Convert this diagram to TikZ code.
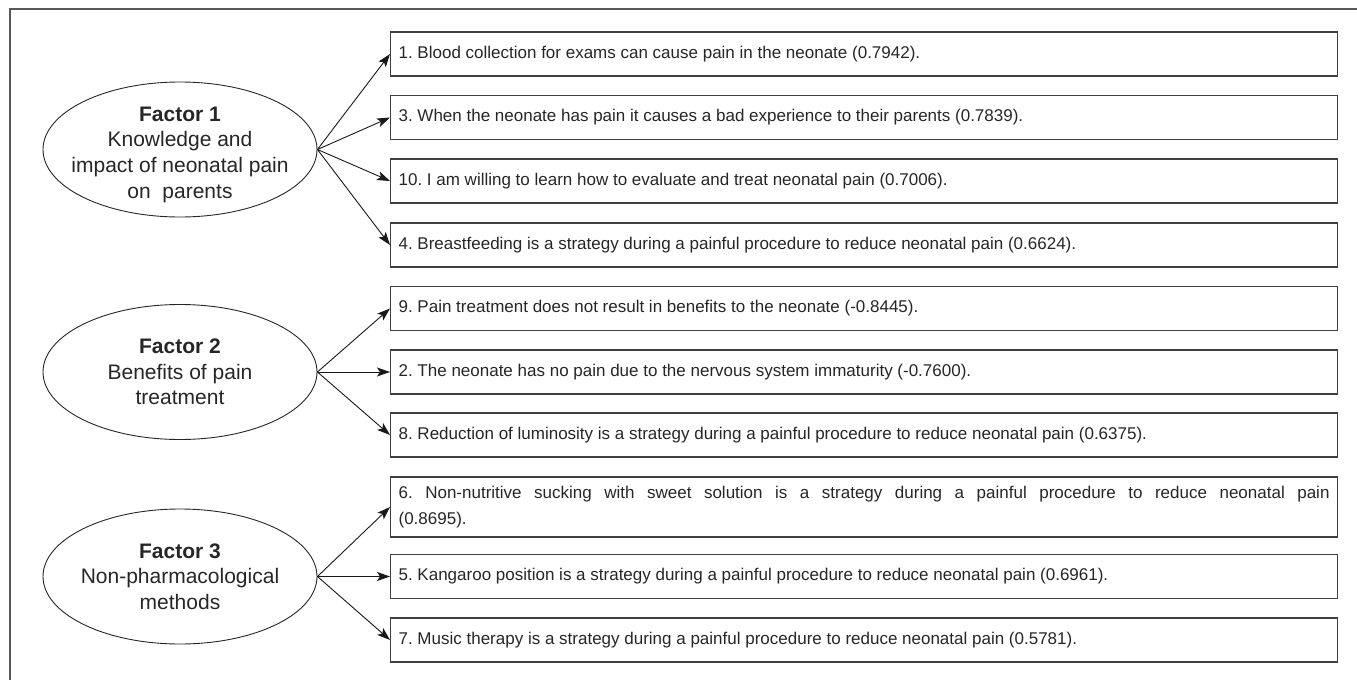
\documentclass[tikz,border=0pt]{standalone}
\usepackage{fontspec}
\setmainfont{Liberation Sans}
\usetikzlibrary{shapes.geometric,arrows.meta}

\begin{document}
\frenchspacing
\begin{tikzpicture}[x=1pt,y=-1pt,
    factor/.style={ellipse,draw=black!85,line width=0.9pt,minimum width=274pt,minimum height=135pt,inner xsep=-20pt,inner ysep=-9pt,align=center,text=black!85,font=\fontsize{21}{25.7}\selectfont},
    item/.style={draw=black!75,line width=1.2pt,anchor=west,minimum height=44pt,text width=931pt,inner xsep=8pt,inner ysep=0pt,align=justify,text=black!85,font=\fontsize{17}{26}\selectfont},
    load/.style={-{Stealth[length=13pt,width=9pt,inset=3pt]},line width=0.9pt,black!90}]
    \useasboundingbox (0,0) rectangle (1357,680);
    % Draw the frame
    \draw[black!65,line width=1.3pt] (1357,9) -- (10,9) -- (10,680);
    % factors
    \node[factor] (f1) at (180,149.5) {\rule{0pt}{25pt}\textbf{Factor 1}\\Knowledge and\\impact of neonatal pain\\on\ \ parents};
    \node[factor] (f2) at (180,372) {\textbf{Factor 2}\\Benefits of pain\\treatment};
    \node[factor] (f3) at (180,576.5) {\textbf{Factor 3}\\Non-pharmacological\\methods};
    % items
    \node[item] (q1) at (390,54) {1. Blood collection for exams can cause pain in the neonate (0.7942).};
    \node[item] (q3) at (390,117.5) {3. When the neonate has pain it causes a bad experience to their parents (0.7839).};
    \node[item] (q10) at (390,181) {10. I am willing to learn how to evaluate and treat neonatal pain (0.7006).};
    \node[item] (q4) at (390,245) {4. Breastfeeding is a strategy during a painful procedure to reduce neonatal pain (0.6624).};
    \node[item] (q9) at (390,308.5) {9. Pain treatment does not result in benefits to the neonate (-0.8445).};
    \node[item] (q2) at (390,372) {2. The neonate has no pain due to the nervous system immaturity (-0.7600).};
    \node[item] (q8) at (390,435) {8. Reduction of luminosity is a strategy during a painful procedure to reduce neonatal pain (0.6375).};
    \node[item,minimum height=60pt] (q6) at (390,507) {6. Non-nutritive sucking with sweet solution is a strategy during a painful procedure to reduce neonatal pain\linebreak (0.8695).};
    \node[item] (q5) at (390,576.5) {5. Kangaroo position is a strategy during a painful procedure to reduce neonatal pain (0.6961).};
    \node[item] (q7) at (390,640) {7. Music therapy is a strategy during a painful procedure to reduce neonatal pain (0.5781).};
    % loadings
    \foreach \q in {q1,q3,q10,q4} \draw[load] (f1.east) -- (\q.west);
    \foreach \q in {q9,q2,q8} \draw[load] (f2.east) -- (\q.west);
    \foreach \q in {q6,q5,q7} \draw[load] (f3.east) -- (\q.west);
\end{tikzpicture}
\end{document}
